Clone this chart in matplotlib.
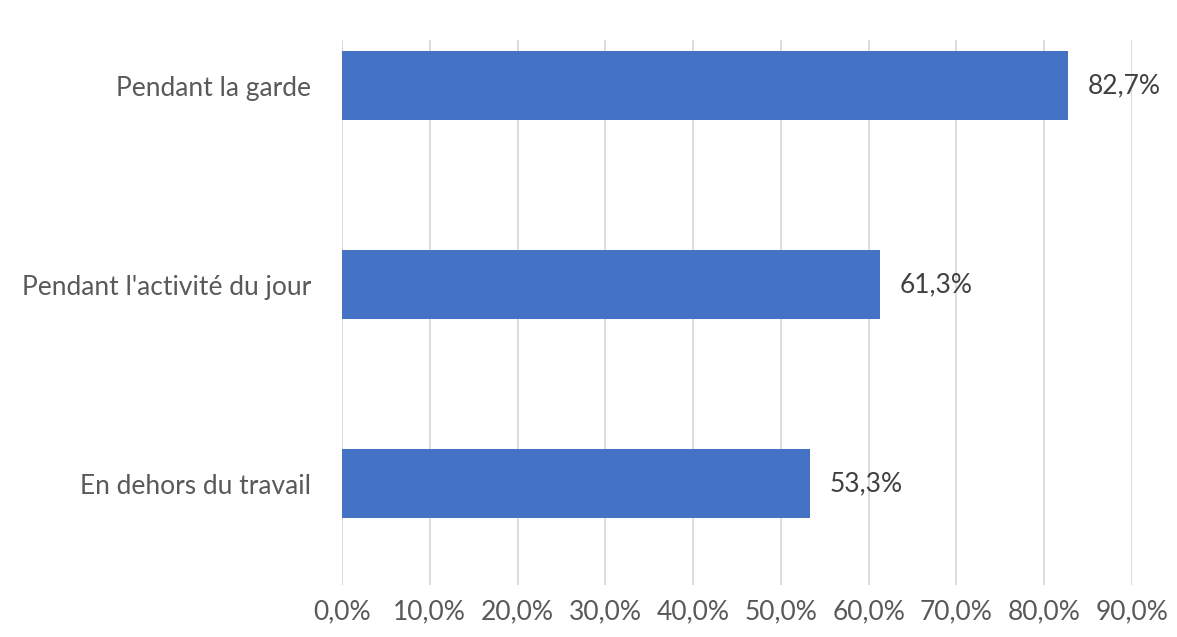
import matplotlib.pyplot as plt

categories = ["En dehors du travail", "Pendant l'activité du jour", "Pendant la garde"]
values = [53.3, 61.3, 82.7]
ticks = [0, 10, 20, 30, 40, 50, 60, 70, 80, 90]

plt.rcParams['font.family'] = ['Lato', 'DejaVu Sans']

fig = plt.figure(figsize=(11.77, 6.37), dpi=100)
ax = fig.add_axes([342 / 1177, 1 - 585 / 637, 790 / 1177, 545 / 637])

pos = list(range(len(categories)))
bars = ax.barh(pos, values, height=0.345, color="#4472C4", zorder=3)

# value labels to the right of each bar
for b, v in zip(bars, values):
    ax.annotate(f"{v:.1f}%".replace(".", ","),
                (b.get_width(), b.get_y() + b.get_height() / 2),
                xytext=(20, 0), textcoords="offset pixels",
                va="center", ha="left", fontsize=19, color="#404040")

ax.set_xlim(0, 90)
ax.set_ylim(-0.51, 2.23)
ax.set_xticks(ticks)
ax.set_xticklabels([f"{t:.1f}%".replace(".", ",") for t in ticks])
ax.set_yticks(pos)
ax.set_yticklabels(categories)

ax.grid(axis="x", color="#d9d9d9", linewidth=1.3, zorder=0)
for s in ax.spines.values():
    s.set_visible(False)
ax.tick_params(axis="both", length=0, labelsize=19, labelcolor="#595959")
ax.tick_params(axis="x", pad=10)
ax.tick_params(axis="y", pad=22)

fig.savefig("out.png", dpi=100, facecolor="white")
